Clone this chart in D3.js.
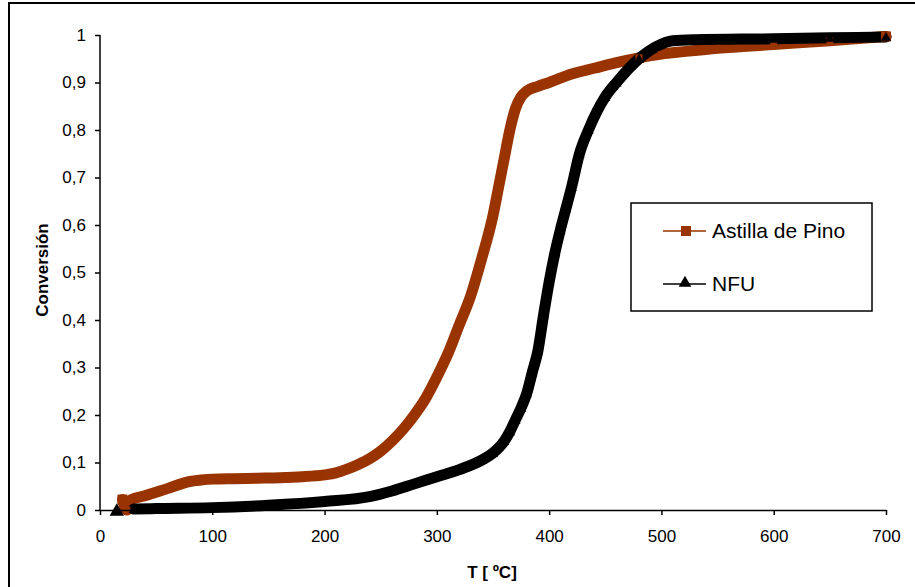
<!DOCTYPE html>
<html><head><meta charset="utf-8">
<script src="https://cdn.jsdelivr.net/npm/d3@7"></script>
<style>body{margin:0;background:#fff}svg{display:block;font-family:"Liberation Sans",Arial,sans-serif}</style>
</head><body><div id="chart"></div>
<script>
const pinoT = [20,24,28,40,60,80,90,100,120,140,160,180,200,210,220,230,240,250,260,270,280,290,300,310,320,330,340,350,355,360,365,370,375,380,390,400,420,440,460,480,500,520,550,600,650,700];
const pinoV = [0.022,0.0,0.022,0.03,0.045,0.06,0.063,0.065,0.066,0.067,0.068,0.070,0.074,0.078,0.086,0.096,0.108,0.124,0.145,0.17,0.2,0.235,0.28,0.33,0.39,0.45,0.53,0.62,0.68,0.74,0.80,0.845,0.87,0.882,0.892,0.90,0.918,0.93,0.942,0.952,0.96,0.965,0.972,0.98,0.988,0.997];
const nfuT = [15,30,50,100,150,200,240,260,280,300,320,340,350,360,365,370,375,380,385,390,395,400,405,410,415,420,427,435,450,460,480,495,510,530,600,650,700];
const nfuV = [0.0,0.002,0.003,0.005,0.01,0.018,0.028,0.04,0.055,0.07,0.085,0.105,0.12,0.145,0.165,0.19,0.215,0.245,0.29,0.335,0.41,0.48,0.54,0.59,0.635,0.68,0.75,0.80,0.87,0.90,0.95,0.975,0.988,0.99,0.992,0.994,0.996];
const xTicks = [0,100,200,300,400,500,600,700];
const yTicks = [0,0.1,0.2,0.3,0.4,0.5,0.6,0.7,0.8,0.9,1];
const seriesNames = ["Astilla de Pino","NFU"];
const seriesColors = ["#993300","#000000"];

const W=915,H=587;
const svg=d3.select("#chart").append("svg").attr("width",W).attr("height",H);
svg.append("rect").attr("x",9).attr("y",3).attr("width",940).attr("height",620)
  .attr("fill","#fff").attr("stroke","#000").attr("stroke-width",2);

const x=d3.scaleLinear().domain([0,700]).range([100,886]);
const y=d3.scaleLinear().domain([0,1]).range([510,35]);
const fmt=v=>String(+v.toFixed(1)).replace(".",",");

const sets=[pinoT.map((t,i)=>[t,pinoV[i]]), nfuT.map((t,i)=>[t,nfuV[i]])];
const line=d3.line().x(d=>x(d[0])).y(d=>y(d[1])).curve(d3.curveMonotoneX);
sets.forEach((d,i)=>{
  const pts = i===1 ? d.slice(1) : d;
  svg.append("path").attr("d",line(pts)).attr("fill","none")
    .attr("stroke",seriesColors[i]).attr("stroke-width",11)
    .attr("stroke-linejoin","round").attr("stroke-linecap","round");
});
const last0 = sets[0].length-1;
svg.append("g").selectAll("rect").data(sets[0]).join("rect")
  .attr("x",(d,i)=>x(d[0])-(i===0||i===last0?5:3.5)).attr("y",(d,i)=>y(d[1])-(i===0||i===last0?5:3.5))
  .attr("width",(d,i)=>i===0||i===last0?10:7).attr("height",(d,i)=>i===0||i===last0?10:7)
  .attr("fill",seriesColors[0]);
svg.append("g").selectAll("path").data(sets[1]).join("path")
  .attr("d",(d,i)=>d3.symbol().type(d3.symbolTriangle).size(i===0?90:45)())
  .attr("transform",(d,i)=>`translate(${x(d[0])},${y(d[1])+(i===0?1.5:1)})`)
  .attr("fill",seriesColors[1]);

const gx=svg.append("g").attr("transform","translate(0,510)")
  .call(d3.axisBottom(x).tickValues(xTicks).tickSize(5).tickPadding(15).tickFormat(d=>d).tickSizeOuter(0));
const gy=svg.append("g").attr("transform","translate(100,0)")
  .call(d3.axisLeft(y).tickValues(yTicks).tickSize(5).tickPadding(9).tickFormat(fmt).tickSizeOuter(0));
[gx,gy].forEach(g=>{
  g.select(".domain").attr("stroke","#000").attr("stroke-width",1.5);
  g.selectAll(".tick line").attr("stroke","#000").attr("stroke-width",1.5);
  g.selectAll("text").attr("font-size",17).attr("fill","#000")
   .attr("font-family","Liberation Sans, Arial, sans-serif");
});
gy.select(".domain").attr("d","M0,510V35");

svg.append("text").attr("x",492).attr("y",578).attr("text-anchor","middle")
  .attr("font-size",17).attr("font-weight","bold").text("T [ ºC]");
svg.append("text").attr("transform","translate(48,270) rotate(-90)").attr("text-anchor","middle")
  .attr("font-size",17).attr("font-weight","bold").text("Conversión");

const lg=svg.append("g");
lg.append("rect").attr("x",631).attr("y",203).attr("width",241).attr("height",108)
  .attr("fill","#fff").attr("stroke","#000").attr("stroke-width",1.5);
const ly=[231,284];
seriesNames.forEach((n,i)=>{
  lg.append("line").attr("x1",663).attr("x2",706).attr("y1",ly[i]).attr("y2",ly[i])
    .attr("stroke",seriesColors[i]).attr("stroke-width",1.5);
  if(i===0) lg.append("rect").attr("x",681).attr("y",ly[i]-5).attr("width",10).attr("height",10).attr("fill",seriesColors[i]);
  else lg.append("path").attr("d",d3.symbol().type(d3.symbolTriangle).size(70)).attr("transform",`translate(685,${ly[i]-1})`).attr("fill",seriesColors[i]);
  lg.append("text").attr("x",712).attr("y",ly[i]+7).attr("font-size",21).text(n);
});
</script></body></html>
